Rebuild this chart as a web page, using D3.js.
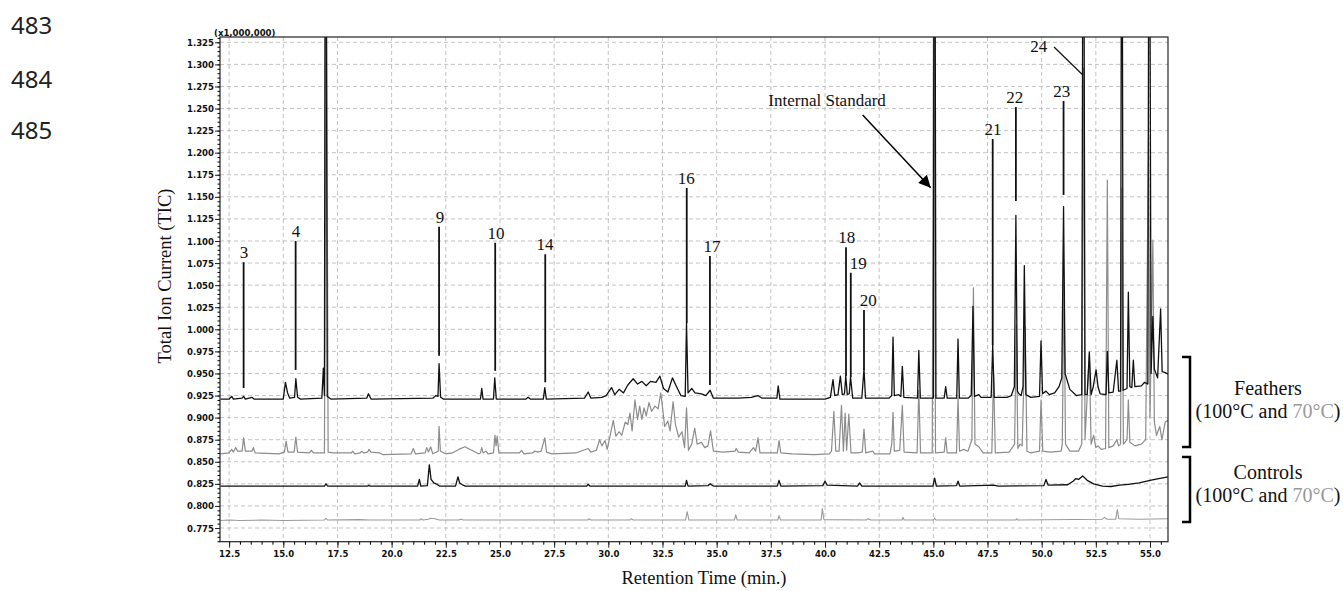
<!DOCTYPE html>
<html>
<head>
<meta charset="utf-8">
<script src="https://cdn.jsdelivr.net/npm/d3@7"></script>
<style>
  body { margin: 0; background: #fff; }
  svg { display: block; }
  .tick-lbl { font-family: "Liberation Sans Narrow", "DejaVu Sans Condensed", sans-serif; font-weight: bold; font-size: 9.5px; fill: #111; }
  .serif { font-family: "Liberation Serif", "DejaVu Serif", serif; fill: #111; }
  .linenum { font-family: "Noto Sans", "Open Sans", sans-serif; font-size: 24px; fill: #222; }
</style>
</head>
<body>
<svg id="chart" width="1343" height="591"></svg>
<script>
// tick values
const xTicks = [12.5, 15.0, 17.5, 20.0, 22.5, 25.0, 27.5, 30.0, 32.5, 35.0, 37.5, 40.0, 42.5, 45.0, 47.5, 50.0, 52.5, 55.0];
const yTicks = [0.775, 0.800, 0.825, 0.850, 0.875, 0.900, 0.925, 0.950, 0.975, 1.000, 1.025, 1.050, 1.075, 1.100,
                1.125, 1.150, 1.175, 1.200, 1.225, 1.250, 1.275, 1.300, 1.325];

// feathers 100°C (black), [time, TIC x1e6]; 1.45 = peak runs off the top
const feathersHot = [
  [12.1,0.921],[12.5,0.921],[12.62,0.924],[12.7,0.921],[13.1,0.922],[13.17,0.924],[13.25,0.921],[13.55,0.923],[13.65,0.921],
  [15.0,0.921],[15.1,0.940],[15.2,0.928],[15.3,0.922],[15.52,0.923],[15.58,0.944],[15.66,0.923],[15.8,0.921],
  [16.78,0.922],[16.85,0.956],[16.9,0.925],[16.93,1.45],[16.98,1.45],[17.03,0.924],[17.2,0.921],[18.85,0.922],[18.93,0.927],[19.05,0.921],
  [21.9,0.922],[22.05,0.925],[22.14,0.924],[22.19,0.961],[22.26,0.923],[22.4,0.921],[24.1,0.921],[24.16,0.933],[24.22,0.921],
  [24.7,0.921],[24.76,0.945],[24.83,0.921],[26.2,0.921],[26.3,0.923],[26.4,0.921],[27.0,0.921],[27.07,0.934],[27.14,0.921],
  [28.9,0.922],[29.07,0.929],[29.2,0.922],[29.7,0.923],[29.9,0.925],[30.15,0.934],[30.3,0.926],[30.5,0.932],[30.7,0.928],
  [30.9,0.937],[31.15,0.944],[31.35,0.938],[31.55,0.941],[31.75,0.936],[31.95,0.941],[32.2,0.940],[32.38,0.947],[32.55,0.933],
  [32.75,0.929],[32.96,0.945],[33.15,0.935],[33.35,0.925],[33.55,0.924],[33.61,1.007],[33.68,0.928],[33.85,0.933],[34.0,0.928],
  [34.3,0.927],[34.5,0.925],[34.7,0.931],[34.85,0.922],[36.0,0.922],[36.6,0.923],[36.9,0.925],[37.1,0.922],
  [37.78,0.922],[37.84,0.936],[37.92,0.921],[40.0,0.921],[40.25,0.923],[40.37,0.943],[40.45,0.925],[40.6,0.926],[40.71,0.947],
  [40.8,0.926],[40.9,0.927],[40.96,0.947],[41.03,0.926],[41.12,0.927],[41.18,0.946],[41.28,0.922],[41.7,0.922],[41.8,0.955],
  [41.87,0.922],[42.95,0.922],[43.08,0.925],[43.14,0.991],[43.2,0.925],[43.4,0.926],[43.5,0.924],[43.57,0.958],[43.64,0.923],
  [44.27,0.922],[44.33,0.976],[44.4,0.922],[45.0,0.922],[45.03,1.45],[45.08,1.45],[45.12,0.922],[45.5,0.922],[45.57,0.935],[45.64,0.922],
  [46.08,0.922],[46.14,0.989],[46.2,0.922],[46.6,0.922],[46.75,0.925],[46.83,1.026],[46.9,0.924],[47.1,0.926],[47.2,0.923],
  [47.67,0.923],[47.74,0.982],[47.81,0.923],[48.4,0.923],[48.6,0.925],[48.74,0.935],[48.81,1.129],[48.88,0.930],[48.95,0.927],
  [49.05,0.925],[49.14,0.935],[49.2,1.072],[49.27,0.926],[49.5,0.923],[49.9,0.924],[49.97,0.987],[50.04,0.927],[50.2,0.930],
  [50.35,0.926],[50.6,0.928],[50.8,0.935],[50.93,0.945],[51.01,1.139],[51.08,0.950],[51.3,0.932],[51.6,0.925],[51.85,0.926],
  [51.9,1.45],[51.95,1.45],[52.0,0.926],[52.1,0.926],[52.2,0.974],[52.28,0.926],[52.38,0.935],[52.51,0.954],[52.6,0.935],[52.7,0.927],
  [52.97,0.926],[53.03,0.975],[53.1,0.928],[53.3,0.929],[53.47,0.965],[53.55,0.930],[53.64,0.930],[53.68,1.45],[53.72,1.45],[53.76,0.931],
  [53.94,0.933],[54.0,1.042],[54.07,0.935],[54.16,0.934],[54.23,0.965],[54.3,0.935],[54.6,0.936],[54.75,0.940],[54.9,0.938],
  [54.94,1.45],[54.99,1.45],[55.05,0.950],[55.13,1.0145],[55.2,0.955],[55.35,0.945],[55.49,1.023],[55.56,0.952],[55.7,0.951],[55.85,0.949]
];

// feathers 70°C (grey)
const feathersWarm = [
  [12.1,0.859],[12.5,0.860],[12.62,0.864],[12.7,0.861],[12.8,0.866],[12.9,0.862],[13.1,0.862],[13.17,0.877],[13.25,0.862],
  [13.55,0.862],[13.62,0.866],[13.7,0.860],[14.8,0.859],[15.05,0.861],[15.13,0.873],[15.22,0.861],[15.5,0.861],[15.58,0.878],
  [15.66,0.861],[16.2,0.860],[16.3,0.863],[16.4,0.860],[16.9,0.860],[16.99,1.45],[17.07,0.861],[17.3,0.860],[18.15,0.860],
  [18.2,0.862],[18.3,0.859],[18.55,0.860],[18.62,0.862],[18.7,0.860],[18.9,0.861],[18.95,0.864],[19.05,0.861],[19.45,0.860],
  [19.6,0.858],[20.9,0.859],[21.0,0.865],[21.1,0.859],[21.55,0.860],[21.62,0.866],[21.7,0.861],[21.8,0.867],[21.9,0.859],
  [22.15,0.862],[22.19,0.890],[22.25,0.862],[22.5,0.859],[22.8,0.860],[23.1,0.864],[23.38,0.867],[23.7,0.863],[24.0,0.859],
  [24.1,0.860],[24.16,0.866],[24.22,0.860],[24.35,0.862],[24.45,0.859],[24.7,0.860],[24.77,0.880],[24.82,0.868],[24.87,0.879],
  [24.95,0.860],[25.9,0.860],[26.0,0.863],[26.1,0.859],[26.5,0.860],[26.6,0.862],[26.75,0.861],[26.9,0.862],[27.07,0.877],
  [27.15,0.861],[27.4,0.859],[28.5,0.860],[29.07,0.865],[29.2,0.861],[29.45,0.863],[29.6,0.875],[29.7,0.868],[29.85,0.874],
  [29.95,0.864],[30.23,0.897],[30.35,0.879],[30.5,0.884],[30.62,0.880],[30.78,0.895],[30.9,0.892],[31.0,0.905],[31.1,0.885],
  [31.23,0.920],[31.35,0.898],[31.45,0.913],[31.55,0.898],[31.65,0.911],[31.75,0.902],[31.88,0.917],[32.0,0.907],[32.15,0.913],
  [32.3,0.910],[32.42,0.928],[32.5,0.912],[32.6,0.890],[32.75,0.896],[32.85,0.885],[32.99,0.918],[33.1,0.892],[33.25,0.878],
  [33.4,0.884],[33.52,0.866],[33.61,0.911],[33.7,0.863],[33.85,0.870],[33.99,0.888],[34.1,0.870],[34.3,0.872],[34.45,0.866],
  [34.6,0.868],[34.72,0.885],[34.85,0.862],[35.3,0.861],[35.85,0.862],[35.9,0.865],[36.0,0.861],[36.5,0.860],[36.7,0.866],
  [36.8,0.862],[36.91,0.877],[37.0,0.860],[37.8,0.860],[37.88,0.874],[37.96,0.860],[38.5,0.859],[39.5,0.858],[40.2,0.859],
  [40.3,0.862],[40.41,0.907],[40.5,0.862],[40.65,0.862],[40.76,0.914],[40.85,0.862],[40.93,0.905],[41.0,0.863],[41.1,0.904],
  [41.2,0.860],[41.5,0.860],[41.72,0.861],[41.8,0.887],[41.88,0.860],[42.2,0.862],[42.3,0.859],[43.0,0.859],[43.08,0.870],
  [43.14,0.906],[43.2,0.862],[43.45,0.863],[43.57,0.914],[43.65,0.861],[44.25,0.860],[44.33,0.931],[44.41,0.860],[44.95,0.860],
  [45.02,1.45],[45.1,0.860],[45.5,0.861],[45.57,0.877],[45.64,0.860],[46.07,0.860],[46.14,0.922],[46.21,0.862],[46.4,0.864],
  [46.6,0.862],[46.78,0.875],[46.85,1.047],[46.92,0.870],[47.1,0.867],[47.3,0.860],[47.7,0.860],[47.78,0.950],[47.86,0.860],
  [48.5,0.861],[48.75,0.870],[48.83,1.005],[48.9,0.865],[49.0,0.870],[49.1,0.868],[49.24,1.003],[49.32,0.862],[49.5,0.860],
  [49.9,0.862],[49.97,0.920],[50.05,0.862],[50.4,0.861],[50.9,0.862],[50.95,0.870],[51.03,1.054],[51.1,0.870],[51.3,0.862],
  [51.7,0.862],[51.85,0.870],[51.93,1.296],[52.0,0.875],[52.2,0.973],[52.28,0.870],[52.4,0.880],[52.5,0.866],[52.6,0.868],
  [52.75,0.864],[52.95,0.865],[53.03,1.169],[53.1,0.866],[53.3,0.868],[53.47,0.875],[53.55,0.868],[53.64,0.870],[53.7,1.160],
  [53.77,0.870],[53.94,0.875],[54.0,0.920],[54.07,0.872],[54.3,0.868],[54.6,0.870],[54.8,0.875],[54.93,1.218],[55.0,0.900],
  [55.13,1.101],[55.2,0.895],[55.3,0.880],[55.45,0.890],[55.55,0.875],[55.7,0.895],[55.85,0.897]
];

// controls 100°C (black)
const controlHot = [
  [12.1,0.8225],[16.9,0.8225],[16.97,0.825],[17.05,0.8225],[18.9,0.8225],[18.95,0.8235],[19.0,0.8225],[21.2,0.8225],
  [21.28,0.830],[21.35,0.8225],[21.65,0.823],[21.74,0.8465],[21.82,0.830],[21.95,0.826],[22.1,0.8245],[22.2,0.8225],
  [22.95,0.8225],[23.06,0.833],[23.14,0.826],[23.3,0.8235],[23.4,0.8225],[29.0,0.8225],[29.07,0.8245],[29.15,0.8225],
  [33.55,0.8225],[33.61,0.829],[33.68,0.8225],[34.6,0.823],[34.7,0.825],[34.85,0.8225],[37.8,0.8225],[37.88,0.829],
  [37.96,0.8225],[39.9,0.823],[40.0,0.828],[40.1,0.8235],[41.5,0.8225],[41.6,0.826],[41.7,0.8225],[44.98,0.8225],
  [45.06,0.8315],[45.14,0.8225],[46.07,0.823],[46.14,0.828],[46.22,0.8225],[47.78,0.8235],[48.0,0.8225],[50.1,0.823],
  [50.2,0.830],[50.3,0.8235],[51.2,0.824],[51.45,0.828],[51.58,0.831],[51.7,0.830],[51.89,0.834],[52.1,0.829],[52.4,0.825],
  [52.8,0.8225],[53.2,0.822],[53.6,0.8235],[54.0,0.8245],[54.5,0.826],[55.0,0.829],[55.4,0.831],[55.85,0.833]
];

// controls 70°C (grey)
const controlWarm = [
  [12.1,0.7835],[12.5,0.784],[13.0,0.7835],[14.0,0.784],[15.0,0.7835],[16.9,0.784],[16.97,0.786],[17.05,0.784],[18.5,0.7845],
  [19.0,0.784],[21.3,0.784],[21.35,0.7855],[21.45,0.784],[21.7,0.785],[21.8,0.786],[22.0,0.7855],[22.2,0.784],[23.1,0.784],
  [23.2,0.785],[23.3,0.784],[29.05,0.784],[29.1,0.7855],[29.2,0.784],[31.0,0.784],[31.05,0.7855],[31.15,0.784],[33.56,0.784],
  [33.64,0.7935],[33.72,0.784],[35.82,0.784],[35.88,0.790],[35.95,0.784],[37.82,0.784],[37.88,0.789],[37.95,0.784],
  [39.82,0.784],[39.88,0.797],[39.95,0.7845],[41.9,0.784],[42.0,0.7855],[42.1,0.784],[43.55,0.784],[43.6,0.787],[43.65,0.784],
  [45.0,0.784],[45.06,0.786],[45.12,0.784],[48.8,0.784],[48.85,0.7855],[48.9,0.784],[52.8,0.785],[52.9,0.787],[53.0,0.785],
  [53.42,0.785],[53.49,0.796],[53.56,0.7855],[54.5,0.785],[55.85,0.7855]
];

// numbered peak annotations: leader line from top to bottom (TIC units)
const peakNames   = ["3", "4", "9", "10", "14", "16", "17", "18", "19", "20", "21", "22", "23"];
const peakTimes   = [13.17, 15.57, 22.19, 24.78, 27.09, 33.62, 34.69, 40.97, 41.19, 41.80, 47.74, 48.81, 51.01];
const labelTimes  = [13.19, 15.59, 22.23, 24.82, 27.08, 33.60, 34.78, 41.00, 41.54, 42.00, 47.75, 48.76, 50.93];
const leaderTop   = [1.076, 1.100, 1.116, 1.098, 1.085, 1.160, 1.083, 1.093, 1.064, 1.022, 1.2155, 1.2517, 1.2585];
const leaderBot   = [0.9335, 0.954, 0.970, 0.953, 0.940, 1.007, 0.937, 0.947, 0.946, 0.954, 0.982, 1.1453, 1.1521];

// peak 24 and internal standard (time, TIC)
const peak24Label = [49.87, 1.314];
const peak24Line = [[50.57, 1.3197], [51.90, 1.2880]];
const istdLabel = [42.81, 1.2529];
const istdArrow = [[41.74, 1.2427], [44.88, 1.1604]];

const svg = d3.select("#chart");
const plotL = 220, plotR = 1168, plotT = 37, plotB = 541.7;

const x = d3.scaleLinear().domain([12.08, 55.83]).range([plotL, plotR]);
const y = d3.scaleLinear().domain([0.7595, 1.331]).range([plotB, plotT]);

// grid
const grid = svg.append("g").attr("stroke", "#b4b4b4").attr("stroke-width", 0.8).attr("stroke-dasharray", "4,3");
grid.selectAll(".gx").data(xTicks).enter().append("line")
  .attr("x1", d => x(d)).attr("x2", d => x(d)).attr("y1", plotT).attr("y2", plotB);
grid.selectAll(".gy").data(yTicks).enter().append("line")
  .attr("y1", d => y(d)).attr("y2", d => y(d)).attr("x1", plotL).attr("x2", plotR);

// traces
svg.append("defs").append("clipPath").attr("id", "plot-clip")
  .append("rect").attr("x", plotL).attr("y", plotT).attr("width", plotR - plotL).attr("height", plotB - plotT);

const line = d3.line().x(d => x(d[0])).y(d => y(d[1]));
const traces = [
  { data: controlWarm, color: "#9a9a9a", w: 1.1 },
  { data: controlHot, color: "#111", w: 1.3 },
  { data: feathersWarm, color: "#8c8c8c", w: 1.2 },
  { data: feathersHot, color: "#111", w: 1.3 }
];
const plot = svg.append("g").attr("clip-path", "url(#plot-clip)");
plot.selectAll("path").data(traces).enter().append("path")
  .attr("d", d => line(d.data))
  .attr("fill", "none")
  .attr("stroke", d => d.color)
  .attr("stroke-width", d => d.w)
  .attr("stroke-linejoin", "round");

// frame
svg.append("rect").attr("x", plotL).attr("y", plotT).attr("width", plotR - plotL).attr("height", plotB - plotT)
  .attr("fill", "none").attr("stroke", "#222").attr("stroke-width", 1.2);

// axes
const minorY = d3.range(0.760, 1.3311, 0.005);
const minorX = d3.range(12.5, 55.81, 0.5);
svg.append("g").attr("transform", `translate(${plotL},0)`)
  .call(d3.axisLeft(y).tickValues(minorY).tickSize(2.5).tickFormat(""))
  .call(g => g.select(".domain").remove());
svg.append("g").attr("transform", `translate(0,${plotB})`)
  .call(d3.axisBottom(x).tickValues(minorX).tickSize(3).tickFormat(""))
  .call(g => g.select(".domain").remove());

const yAxis = svg.append("g").attr("transform", `translate(${plotL},0)`)
  .call(d3.axisLeft(y).tickValues(yTicks).tickSize(5).tickPadding(1).tickFormat(d3.format(".3f")));
yAxis.select(".domain").remove();
yAxis.selectAll("text").attr("class", "tick-lbl").attr("font-size", null).attr("font-family", null);
yAxis.selectAll("line").attr("stroke", "#222");

const xAxis = svg.append("g").attr("transform", `translate(0,${plotB})`)
  .call(d3.axisBottom(x).tickValues(xTicks).tickSize(6).tickPadding(3).tickFormat(d3.format(".1f")));
xAxis.select(".domain").remove();
xAxis.selectAll("text").attr("class", "tick-lbl").attr("font-size", null).attr("font-family", null);
xAxis.selectAll("line").attr("stroke", "#222");

svg.append("text").attr("class", "tick-lbl").attr("x", 214).attr("y", 36).attr("font-size", "8px")
  .text("(x1,000,000)");

// axis titles
svg.append("text").attr("class", "serif").attr("font-size", "18.5px")
  .attr("transform", "translate(171,276) rotate(-90)").attr("text-anchor", "middle")
  .text("Total Ion Current (TIC)");
svg.append("text").attr("class", "serif").attr("font-size", "18.5px")
  .attr("x", 704).attr("y", 584).attr("text-anchor", "middle")
  .text("Retention Time (min.)");

// peak annotations
const ann = svg.append("g");
peakNames.forEach((name, i) => {
  ann.append("line")
    .attr("x1", x(peakTimes[i])).attr("x2", x(peakTimes[i]))
    .attr("y1", y(leaderTop[i])).attr("y2", y(leaderBot[i]))
    .attr("stroke", "#111").attr("stroke-width", 1.8);
  ann.append("text").attr("class", "serif").attr("font-size", "17px")
    .attr("x", x(labelTimes[i])).attr("y", y(leaderTop[i]) - 4)
    .attr("text-anchor", "middle").text(name);
});
ann.append("text").attr("class", "serif").attr("font-size", "17px")
  .attr("x", x(peak24Label[0])).attr("y", y(peak24Label[1]))
  .attr("text-anchor", "middle").text("24");
ann.append("line")
  .attr("x1", x(peak24Line[0][0])).attr("y1", y(peak24Line[0][1]))
  .attr("x2", x(peak24Line[1][0])).attr("y2", y(peak24Line[1][1]))
  .attr("stroke", "#111").attr("stroke-width", 1.2);

svg.select("defs").append("marker")
  .attr("id", "arrow")
  .attr("viewBox", "0 -5 10 10")
  .attr("refX", 10).attr("refY", 0)
  .attr("markerWidth", 15).attr("markerHeight", 12)
  .attr("markerUnits", "userSpaceOnUse")
  .attr("orient", "auto")
  .append("path").attr("d", "M0,-5L10,0L0,5Z").attr("fill", "#000");
ann.append("line")
  .attr("x1", x(istdArrow[0][0])).attr("y1", y(istdArrow[0][1]))
  .attr("x2", x(istdArrow[1][0])).attr("y2", y(istdArrow[1][1]))
  .attr("stroke", "#000").attr("stroke-width", 1.5)
  .attr("marker-end", "url(#arrow)");
ann.append("text").attr("class", "serif").attr("font-size", "17px")
  .attr("x", x(istdLabel[0])).attr("y", y(istdLabel[1]))
  .attr("text-anchor", "end").text("Internal Standard");

// group brackets on the right
const groups = [
  { name: "Feathers", y0: 357, y1: 447, ty: 395 },
  { name: "Controls", y0: 457, y1: 522, ty: 479 }
];
groups.forEach(g => {
  svg.append("path")
    .attr("d", `M1182,${g.y0}H1190V${g.y1}H1182`)
    .attr("fill", "none").attr("stroke", "#000").attr("stroke-width", 2.5);
  svg.append("text").attr("class", "serif").attr("font-size", "20px")
    .attr("x", 1268).attr("y", g.ty).attr("text-anchor", "middle").text(g.name);
  const t = svg.append("text").attr("class", "serif").attr("font-size", "20px")
    .attr("x", 1268).attr("y", g.ty + 23).attr("text-anchor", "middle");
  t.append("tspan").text("(100°C and ");
  t.append("tspan").attr("fill", "#999").text("70°C");
  t.append("tspan").text(")");
});

// manuscript line numbers
[["483", 34], ["484", 88], ["485", 139]].forEach(([n, yy]) => {
  svg.append("text").attr("class", "linenum").attr("x", 11).attr("y", yy).text(n);
});
</script>
</body>
</html>
